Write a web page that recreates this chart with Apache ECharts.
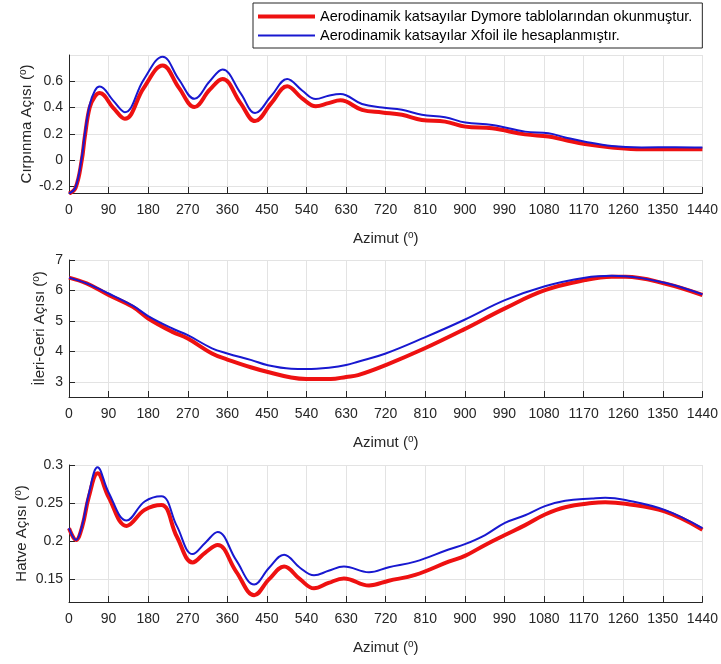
<!DOCTYPE html>
<html>
<head>
<meta charset="utf-8">
<script src="https://cdn.jsdelivr.net/npm/echarts@6/dist/echarts.min.js"></script>
<style>
  html, body { margin: 0; padding: 0; background: #ffffff; }
  #chart { width: 721px; height: 664px; }
</style>
</head>
<body>
<div id="chart"></div>
<script>
// Series names (legend)
const seriesNames = [
  'Aerodinamik katsayılar Dymore tablolarından okunmuştur.',
  'Aerodinamik katsayılar Xfoil ile hesaplanmıştır.'
];

// Azimuth axis range and step (degrees)
const azimuthMax = 1440;
const azimuthStep = 90;

// Flapping angle (Çırpınma) samples
const flapAz = [0, 15, 29, 36, 47, 59, 70, 100, 127, 170, 213, 250, 285, 320, 349, 390, 423, 460, 496, 530, 561, 590, 617, 666, 712, 757, 802, 855, 901, 962, 1037, 1090, 1128, 1173, 1234, 1302, 1378, 1440];
const flapDymore = [-0.255, -0.21, 0.0, 0.18, 0.40, 0.485, 0.51, 0.40, 0.314, 0.55, 0.72, 0.55, 0.404, 0.536, 0.618, 0.434, 0.297, 0.434, 0.562, 0.47, 0.41, 0.434, 0.455, 0.383, 0.363, 0.345, 0.306, 0.293, 0.255, 0.242, 0.196, 0.18, 0.153, 0.122, 0.097, 0.082, 0.084, 0.082];
const flapXfoil = [-0.255, -0.205, 0.02, 0.20, 0.42, 0.53, 0.56, 0.455, 0.365, 0.613, 0.787, 0.613, 0.467, 0.60, 0.69, 0.51, 0.358, 0.49, 0.618, 0.53, 0.465, 0.49, 0.503, 0.427, 0.40, 0.383, 0.345, 0.327, 0.286, 0.268, 0.217, 0.204, 0.173, 0.14, 0.107, 0.097, 0.099, 0.097];

// Lead-lag angle (İleri-Geri) samples
const lagAz = [0, 40, 90, 145, 180, 235, 270, 325, 360, 415, 450, 505, 540, 595, 630, 657, 720, 809, 898, 991, 1082, 1173, 1234, 1265, 1354, 1440];
const lagDymore = [6.42, 6.23, 5.85, 5.46, 5.08, 4.64, 4.42, 3.93, 3.73, 3.47, 3.33, 3.14, 3.09, 3.09, 3.16, 3.22, 3.55, 4.10, 4.72, 5.41, 6.01, 6.34, 6.45, 6.45, 6.23, 5.85];
const lagXfoil = [6.42, 6.23, 5.9, 5.5, 5.16, 4.75, 4.53, 4.1, 3.93, 3.71, 3.55, 3.43, 3.42, 3.47, 3.55, 3.66, 3.93, 4.46, 5.03, 5.68, 6.14, 6.42, 6.48, 6.47, 6.25, 5.87];

// Pitch angle (Hatve) samples
const pitchAz = [0, 16, 30, 45, 65, 90, 131, 172, 210, 245, 281, 310, 338, 380, 421, 455, 489, 525, 557, 590, 625, 682, 727, 787, 863, 900, 946, 991, 1037, 1082, 1128, 1189, 1219, 1265, 1354, 1440];
const pitchDymore = [0.217, 0.2015, 0.219, 0.258, 0.289, 0.258, 0.220, 0.241, 0.2475, 0.206, 0.172, 0.185, 0.195, 0.160, 0.129, 0.150, 0.1666, 0.150, 0.138, 0.145, 0.151, 0.1417, 0.148, 0.1556, 0.173, 0.1806, 0.195, 0.208, 0.221, 0.235, 0.2445, 0.250, 0.251, 0.249, 0.239, 0.215];
const pitchXfoil = [0.217, 0.2015, 0.221, 0.262, 0.297, 0.264, 0.227, 0.252, 0.259, 0.22, 0.183, 0.198, 0.212, 0.175, 0.143, 0.165, 0.182, 0.165, 0.155, 0.161, 0.1666, 0.159, 0.1657, 0.173, 0.189, 0.196, 0.208, 0.224, 0.234, 0.246, 0.253, 0.256, 0.257, 0.254, 0.241, 0.217];

const pairs = (xs, ys) => xs.map((x, i) => [x, ys[i]]);

const FONT = '"Liberation Sans", Arial, sans-serif';
const INK = '#262626';
const GRIDLINE = '#e3e3e3';
const RED = '#ee1111';
const BLUE = '#1818d0';

const nameStyle = {
  fontFamily: FONT, fontSize: 15, color: INK, lineHeight: 18,
  rich: { o: { fontFamily: FONT, fontSize: 10, color: INK, verticalAlign: 'top', lineHeight: 11 } }
};

function xAxisFor(gridIndex) {
  return {
    type: 'value', gridIndex,
    min: 0, max: azimuthMax, interval: azimuthStep,
    name: 'Azimut ({o|o})', nameLocation: 'middle', nameGap: 37,
    nameMoveOverlap: false,
    nameTextStyle: nameStyle,
    axisLine: { show: true, onZero: false, lineStyle: { color: INK, width: 1 } },
    axisTick: { show: true, inside: true, length: 6, lineStyle: { color: INK } },
    axisLabel: { fontFamily: FONT, fontSize: 14, color: INK, margin: 10,
      formatter: v => String(v) },
    splitLine: { show: true, lineStyle: { color: GRIDLINE, width: 1 } }
  };
}

function yAxisFor(gridIndex, name, min, max, splitNumber, gap, hideMax) {
  return {
    type: 'value', gridIndex, min, max, splitNumber,
    name, nameLocation: 'middle', nameGap: gap,
    nameMoveOverlap: false,
    nameTextStyle: nameStyle,
    axisLine: { show: true, onZero: false, lineStyle: { color: INK, width: 1 } },
    axisTick: { show: true, inside: true, length: 6, lineStyle: { color: INK } },
    axisLabel: { fontFamily: FONT, fontSize: 14, color: INK, margin: 6,
      showMinLabel: false, showMaxLabel: !hideMax },
    splitLine: { show: true, lineStyle: { color: GRIDLINE, width: 1 } }
  };
}

function lineSeries(nameIdx, axisIdx, xs, ys) {
  const isRed = nameIdx === 0;
  return {
    type: 'line', name: seriesNames[nameIdx],
    xAxisIndex: axisIdx, yAxisIndex: axisIdx,
    data: pairs(xs, ys),
    smooth: 0.4,
    symbol: 'none',
    lineStyle: { color: isRed ? RED : BLUE, width: isRed ? 4 : 2 },
    itemStyle: { color: isRed ? RED : BLUE },
    z: isRed ? 2 : 3,
    animation: false
  };
}

const chart = echarts.init(document.getElementById('chart'), null, { renderer: 'canvas' });
chart.setOption({
  backgroundColor: '#ffffff',
  animation: false,
  textStyle: { fontFamily: FONT },
  legend: {
    show: true, orient: 'vertical',
    left: 253, top: 3,
    padding: [6, 10, 5, 5],
    itemWidth: 57, itemHeight: 14, itemGap: 4,
    symbolKeepAspect: true,
    backgroundColor: '#ffffff',
    borderColor: INK, borderWidth: 1,
    textStyle: { fontFamily: FONT, fontSize: 14.5, color: '#000000' },
    data: [
      { name: seriesNames[0], icon: 'path://M0,0H57V4H0Z', itemStyle: { color: RED } },
      { name: seriesNames[1], icon: 'path://M0,0H57V2H0Z', itemStyle: { color: BLUE } }
    ]
  },
  grid: [
    { left: 69, right: 16, top: 55, height: 138 },
    { left: 69, right: 16, top: 260, height: 137 },
    { left: 69, right: 16, top: 465, height: 137 }
  ],
  xAxis: [xAxisFor(0), xAxisFor(1), xAxisFor(2)],
  yAxis: [
    yAxisFor(0, 'Cırpınma Açısı ({o|o})', -0.25, 0.8, 5, 33, true),
    yAxisFor(1, 'İleri-Geri Açısı ({o|o})', 2.5, 7, 5, 20, false),
    yAxisFor(2, 'Hatve Açısı ({o|o})', 0.12, 0.3, 4, 38, false)
  ],
  series: [
    lineSeries(0, 0, flapAz, flapDymore),
    lineSeries(1, 0, flapAz, flapXfoil),
    lineSeries(0, 1, lagAz, lagDymore),
    lineSeries(1, 1, lagAz, lagXfoil),
    lineSeries(0, 2, pitchAz, pitchDymore),
    lineSeries(1, 2, pitchAz, pitchXfoil)
  ]
});
</script>
</body>
</html>
